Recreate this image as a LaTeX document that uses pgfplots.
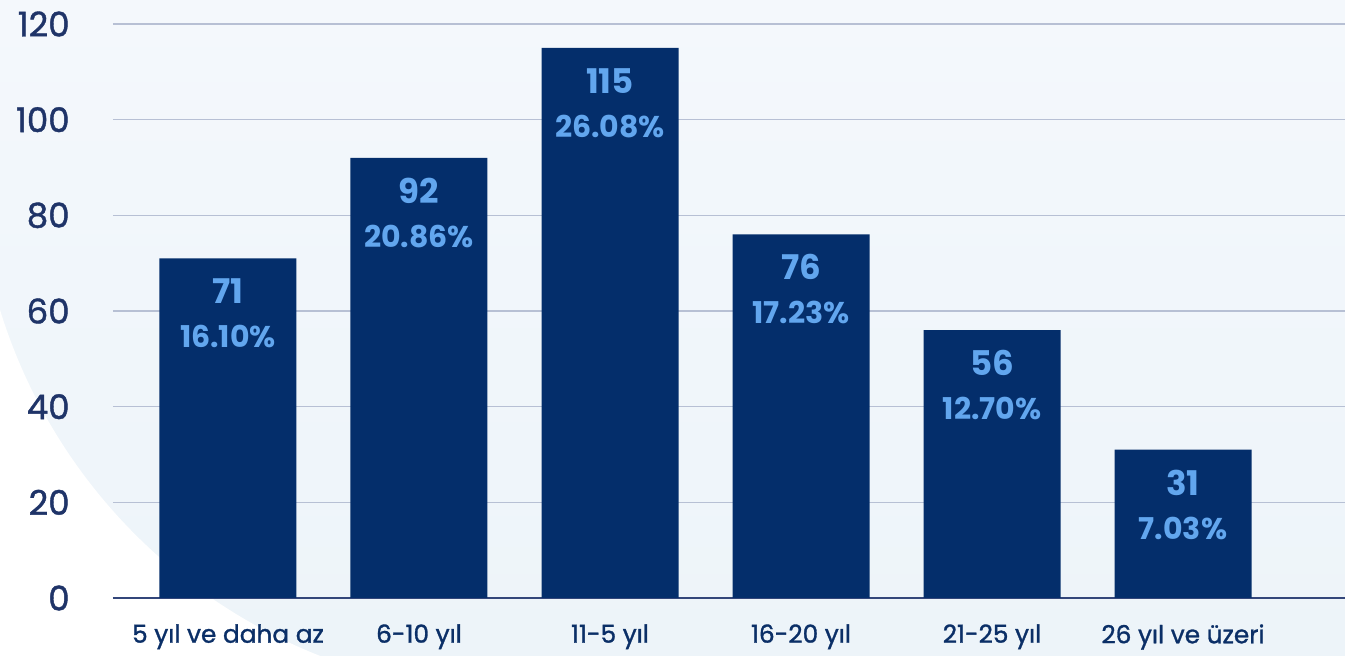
\documentclass[border=0pt]{standalone}
\usepackage{fontspec}
\setmainfont{Poppins}
\newfontfamily\pmed{Poppins}[FakeBold=1.2]
\usepackage{pgfplots}
\usepackage{pgfplotstable}
\pgfplotsset{compat=1.18}

\definecolor{barc}{HTML}{042E6B}
\definecolor{lblc}{HTML}{62A6EE}
\definecolor{tickc}{HTML}{1F3468}
\definecolor{xlc}{HTML}{0B2F67}
\definecolor{gridc}{HTML}{B7C0D4}
\definecolor{axc}{HTML}{33467A}
\definecolor{bgtop}{HTML}{F4F8FC}
\definecolor{bgbot}{HTML}{EDF4F9}

% x, count, share in percent
\pgfplotstableread{
x y pct
0 71 16.10
1 92 20.86
2 115 26.08
3 76 17.23
4 56 12.70
5 31 7.03
}\data

\begin{document}
\begin{tikzpicture}
  % background: pale blue page, white corner bottom left cut by a large arc
  \shade[top color=bgtop, bottom color=bgbot] (0,0) rectangle (672.5pt,328pt);
  \fill[white] (0,0) -- (0,173.1pt) arc[start angle=197.08, end angle=248.45, radius=272pt] -- cycle;
  \useasboundingbox (0,0) rectangle (672.5pt,328pt);

  \begin{axis}[
      at={(56.5pt,29pt)}, anchor=south west,
      scale only axis, width=616pt, height=287pt,
      xmin=-0.602, xmax=5.848, ymin=0, ymax=120,
      /pgf/number format/assume math mode=true,
      axis x line*=bottom, axis y line*=left,
      y axis line style={draw=none},
      x axis line style={axc, line width=1pt},
      major tick length=0pt,
      ytick={0,20,...,120},
      ymajorgrids, grid style={gridc, line width=0.75pt},
      xtick=data,
      xticklabels={5 yıl ve daha az, 6-10 yıl, 11-5 yıl, 16-20 yıl, 21-25 yıl, 26 yıl ve üzeri},
      xticklabel style={font=\pmed\fontsize{12.4}{12.4}\selectfont, text=xlc, anchor=north, inner sep=0pt, yshift=-13pt},
      yticklabel style={font=\pmed\fontsize{17}{17}\selectfont, text=tickc, anchor=east, inner sep=0pt, xshift=-21.5pt},
      clip=false,
    ]
    \addplot[ybar, bar width=68.5pt, fill=barc, draw=none,
      point meta=explicit symbolic,
      nodes near coords={{\fontsize{17}{17}\selectfont\bfseries\pgfmathprintnumber{\pgfkeysvalueof{/data point/y}}}\\[10pt]{\fontsize{15}{15}\selectfont\bfseries\pgfplotspointmeta\%}},
      every node near coord/.append style={anchor=center, yshift=-27.5pt, align=center, text=lblc, inner sep=0pt},
    ] table[x=x, y=y, meta=pct] {\data};
  \end{axis}
\end{tikzpicture}
\end{document}
